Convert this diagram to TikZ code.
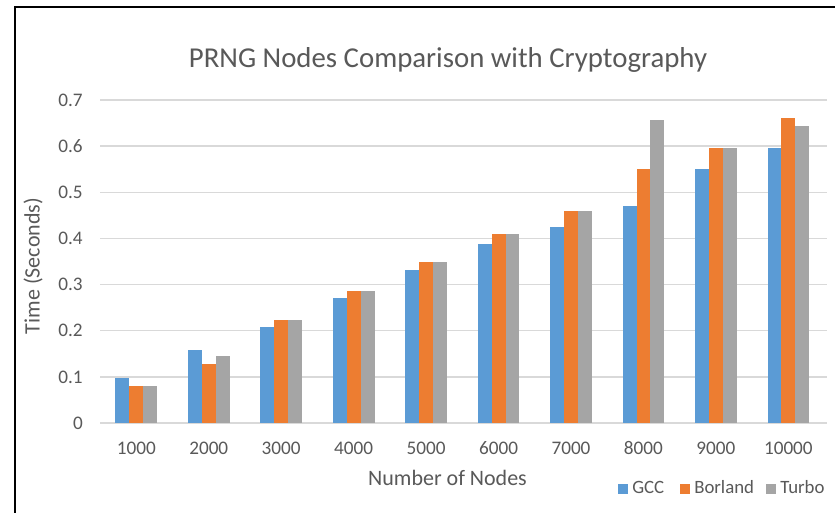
\documentclass[tikz,border=0pt]{standalone}
\usepackage{fontspec}
\setmainfont{Carlito}
\definecolor{gccblue}{HTML}{5B9BD5}
\definecolor{borlandorange}{HTML}{ED7D31}
\definecolor{turbogray}{HTML}{A5A5A5}
\definecolor{labelgray}{HTML}{595959}
\definecolor{gridgray}{HTML}{D9D9D9}
\begin{document}
\begin{tikzpicture}[x=0.75pt,y=-0.75pt,
  ticklabel/.style={text=labelgray,font=\fontsize{14.4}{16}\selectfont,inner sep=0pt},
  axistitle/.style={text=labelgray,font=\fontsize{16.5}{19}\selectfont,inner sep=0pt},
  charttitle/.style={text=labelgray,font=\fontsize{21.6}{25}\selectfont,inner sep=0pt},
  legendtext/.style={text=labelgray,font=\fontsize{14.1}{16}\selectfont,inner sep=0pt},
  gridline/.style={draw=gridgray,line width=1.1pt}]
\useasboundingbox (0,0) rectangle (835,513);
\fill[white] (0,0) rectangle (835,513);
% frame (top and left edges)
\draw[black,line width=1.6pt] (15,513) -- (15,7) -- (835,7);

% horizontal gridlines and y tick labels
\foreach \v [count=\k from 0] in {0,0.1,0.2,0.3,0.4,0.5,0.6,0.7}{
  \draw[gridline] (100,{423-461.4*\v}) -- (827,{423-461.4*\v});
  \node[ticklabel,anchor=east] (ytick\k) at (83,{423-461.4*\v}) {\v};
}

% bars: GCC / Borland / Turbo per category
\foreach \a/\b/\c/\lab [count=\i from 0] in {
  0.097/0.080/0.080/1000, 0.158/0.128/0.145/2000, 0.207/0.223/0.223/3000,
  0.270/0.286/0.286/4000, 0.332/0.348/0.348/5000, 0.387/0.410/0.410/6000,
  0.425/0.459/0.459/7000, 0.471/0.550/0.657/8000, 0.550/0.595/0.595/9000,
  0.595/0.660/0.644/10000}{
  \pgfmathsetmacro\cx{136.3+72.45*\i}
  \fill[gccblue] ({\cx-20.85},423) rectangle ({\cx-6.95},{423-461.4*\a});
  \fill[borlandorange] ({\cx-6.95},423) rectangle ({\cx+6.95},{423-461.4*\b});
  \fill[turbogray] ({\cx+6.95},423) rectangle ({\cx+20.85},{423-461.4*\c});
  \node[ticklabel] (xtick\i) at (\cx,448) {\lab};
}

% titles
\node[charttitle,anchor=base] (title) at (448,68) {PRNG Nodes Comparison with Cryptography};
\node[axistitle,anchor=base] (xtitle) at (447.5,485) {Number of Nodes};
\node[axistitle,rotate=90] (ytitle) at (33,266) {Time (Seconds)};

% legend
\fill[gccblue] (618,484) rectangle (628,494);
\node[legendtext,anchor=base west] (leggcc) at (632,493) {GCC};
\fill[borlandorange] (680,484) rectangle (690,494);
\node[legendtext,anchor=base west] (legborland) at (694,493) {Borland};
\fill[turbogray] (766,484) rectangle (776,494);
\node[legendtext,anchor=base west] (legturbo) at (780,493) {Turbo};
\end{tikzpicture}
\end{document}
